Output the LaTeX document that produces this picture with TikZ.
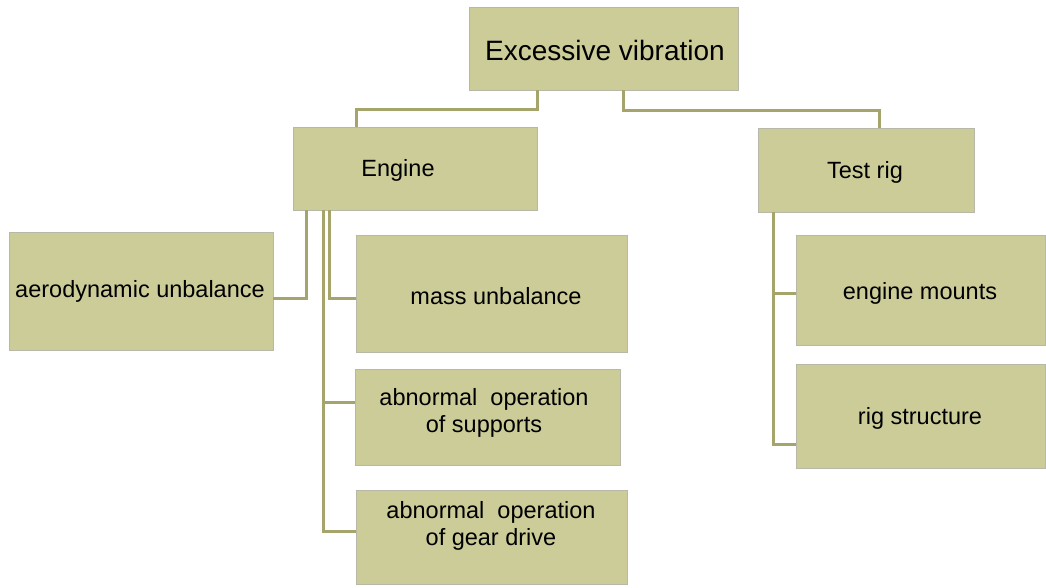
\documentclass[tikz,border=0pt]{standalone}
\usepackage{fontspec}
\setmainfont{Liberation Sans}
\definecolor{boxfill}{HTML}{CCCC99}
\definecolor{boxedge}{HTML}{B8B8A8}
\definecolor{linecol}{HTML}{A5A56B}
\begin{document}
\begin{tikzpicture}[x=1pt,y=-1pt,
  box/.style={draw=boxedge,line width=0.8pt,fill=boxfill,rectangle,inner sep=0pt},
  txt/.style={font=\fontsize{23.5}{26.5}\selectfont,align=center,inner sep=0pt,anchor=center,yshift=-2pt},
  conn/.style={draw=linecol,line width=3pt}]
\useasboundingbox (0,0) rectangle (1046,587);
\fill[white] (0,0) rectangle (1046,587);
% boxes
\node[box,minimum width=269pt,minimum height=83pt] (top) at (603.5,48.5) {};
\node[box,minimum width=244pt,minimum height=83pt] (engine) at (415,168.5) {};
\node[box,minimum width=216pt,minimum height=84pt] (testrig) at (866,170) {};
\node[box,minimum width=264pt,minimum height=118pt] (aero) at (141,291) {};
\node[box,minimum width=271pt,minimum height=117pt] (mass) at (491.5,293.5) {};
\node[box,minimum width=265pt,minimum height=96pt] (supports) at (487.5,417) {};
\node[box,minimum width=271pt,minimum height=94pt] (gear) at (491.5,537) {};
\node[box,minimum width=249pt,minimum height=110pt] (mounts) at (920.5,290) {};
\node[box,minimum width=249pt,minimum height=104pt] (rigs) at (920.5,416) {};
% texts
\node[txt,font=\fontsize{28}{32}\selectfont] (ttop) at (605,48) {Excessive vibration};
\node[txt] (tengine) at (398,168) {Engine};
\node[txt] (ttestrig) at (865,170) {Test rig};
\node[txt] (taero) at (140,289) {aerodynamic unbalance};
\node[txt] (tmass) at (496,294) {mass unbalance};
\node[txt] (tsupports) at (484,411) {abnormal\ \ operation\\of supports};
\node[txt] (tgear) at (491,524) {abnormal\ \ operation\\of gear drive};
\node[txt] (tmounts) at (920,291) {engine mounts};
\node[txt] (trigs) at (920,416) {rig structure};
% connectors
\draw[conn] ([xshift=-66.5pt]top.south) -- ++(0,19) -| ([xshift=-59pt]engine.north);
\draw[conn] ([xshift=19.5pt]top.south) -- ++(0,20) -| ([xshift=13pt]testrig.north);
\draw[conn] ([xshift=-109pt]engine.south) |- ([yshift=-7pt]aero.east);
\draw[conn] ([xshift=-86pt]engine.south) |- ([yshift=-4.5pt]mass.west);
\draw[conn] ([xshift=-92pt]engine.south) |- ([yshift=15pt]supports.west);
\draw[conn] ([xshift=-92pt]engine.south) |- ([yshift=6pt]gear.west);
\draw[conn] ([xshift=-93pt]testrig.south) |- ([yshift=-3pt]mounts.west);
\draw[conn] ([xshift=-93pt]testrig.south) |- ([yshift=-28pt]rigs.west);
\end{tikzpicture}
\end{document}
